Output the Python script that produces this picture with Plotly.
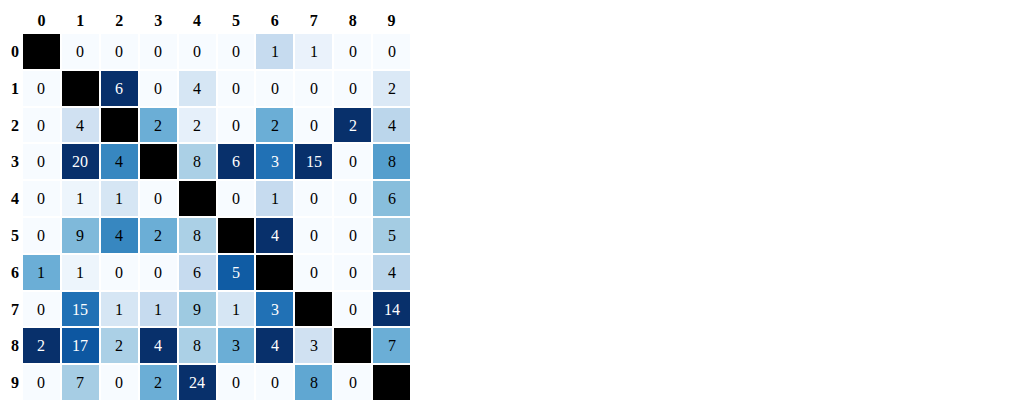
import plotly.graph_objects as go
import plotly.colors as pc

labels = [str(i) for i in range(10)]
counts = [
    [0, 0, 0, 0, 0, 0, 1, 1, 0, 0],
    [0, 0, 6, 0, 4, 0, 0, 0, 0, 2],
    [0, 4, 0, 2, 2, 0, 2, 0, 2, 4],
    [0, 20, 4, 0, 8, 6, 3, 15, 0, 8],
    [0, 1, 1, 0, 0, 0, 1, 0, 0, 6],
    [0, 9, 4, 2, 8, 0, 4, 0, 0, 5],
    [1, 1, 0, 0, 6, 5, 0, 0, 0, 4],
    [0, 15, 1, 1, 9, 1, 3, 0, 0, 14],
    [2, 17, 2, 4, 8, 3, 4, 3, 0, 7],
    [0, 7, 0, 2, 24, 0, 0, 8, 0, 0],
]

n = len(labels)
colmax = [max(counts[r][c] for r in range(n) if r != c) or 1 for c in range(n)]
znorm = [[None if r == c else counts[r][c] / colmax[c] for c in range(n)] for r in range(n)]
zdiag = [[1 if r == c else None for c in range(n)] for r in range(n)]

font_family = "Liberation Serif, Times New Roman, serif"

fig = go.Figure()
fig.add_trace(go.Heatmap(
    z=znorm, x=labels, y=labels, zmin=0, zmax=1,
    colorscale=pc.sequential.Blues, showscale=False,
    xgap=2, ygap=2, hoverinfo="skip",
))
fig.add_trace(go.Heatmap(
    z=zdiag, x=labels, y=labels, zmin=0, zmax=1,
    colorscale=[[0, "black"], [1, "black"]], showscale=False,
    xgap=2, ygap=2, hoverinfo="skip",
))

for r in range(n):
    for c in range(n):
        if r == c:
            continue
        v = znorm[r][c]
        fig.add_annotation(
            x=labels[c], y=labels[r], text=str(counts[r][c]), showarrow=False,
            font=dict(family=font_family, size=16,
                      color="white" if v > 0.7 else "black"),
        )

fig.update_layout(
    width=1024, height=412,
    margin=dict(l=22, r=613, t=33, b=11),
    paper_bgcolor="white", plot_bgcolor="white",
    font=dict(family=font_family),
)
fig.update_xaxes(side="top", showgrid=False, zeroline=False, ticks="",
                 tickfont=dict(family=font_family, size=16, weight="bold", color="black"),
                 ticklabelstandoff=3)
fig.update_yaxes(autorange="reversed", showgrid=False, zeroline=False, ticks="",
                 tickfont=dict(family=font_family, size=16, weight="bold", color="black"),
                 ticklabelstandoff=2)

fig.write_html("out.html")
